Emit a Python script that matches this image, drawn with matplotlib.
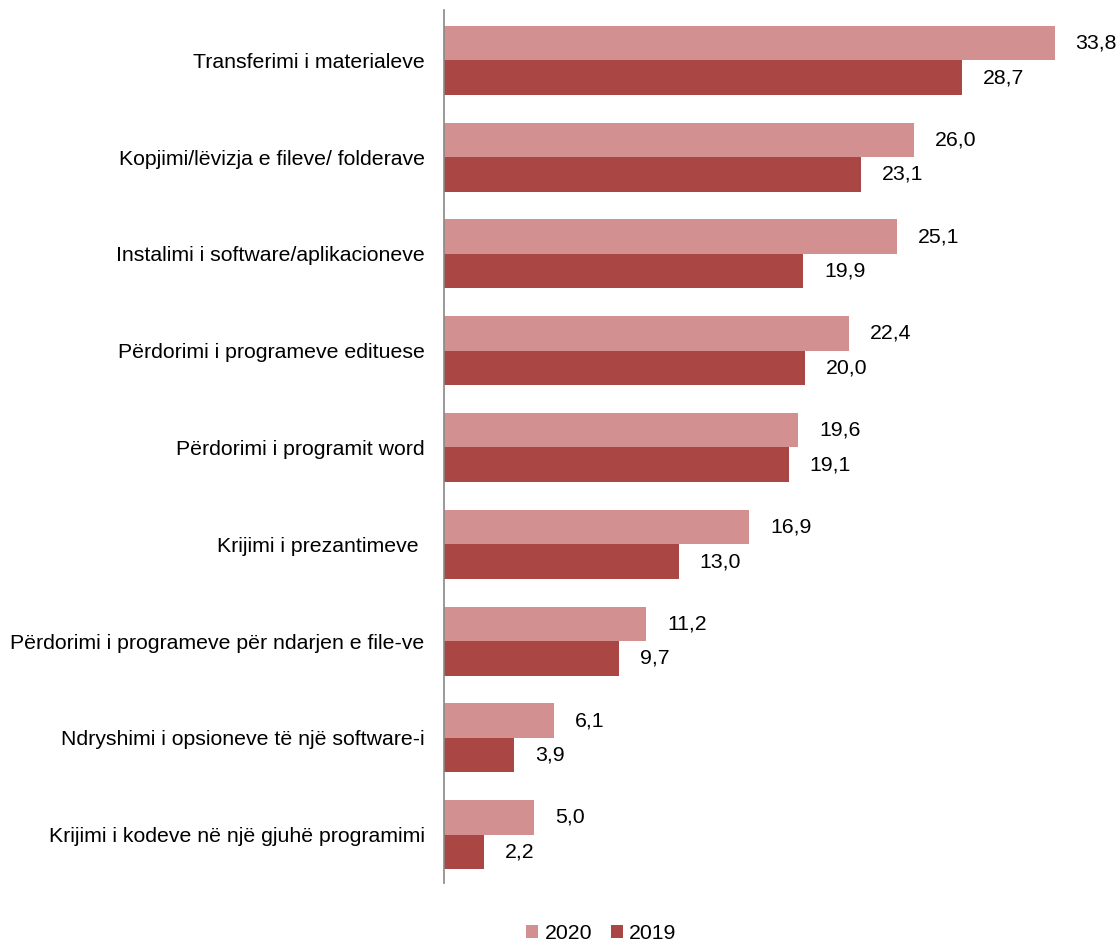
import matplotlib
matplotlib.use("Agg")
import matplotlib.pyplot as plt
import numpy as np

plt.rcParams['font.family'] = ['Liberation Sans', 'DejaVu Sans']

categories = [
    "Transferimi i materialeve",
    "Kopjimi/lëvizja e fileve/ folderave",
    "Instalimi i software/aplikacioneve",
    "Përdorimi i programeve edituese",
    "Përdorimi i programit word",
    "Krijimi i prezantimeve ",
    "Përdorimi i programeve për ndarjen e file-ve",
    "Ndryshimi i opsioneve të një software-i",
    "Krijimi i kodeve në një gjuhë programimi",
]
values_2020 = [33.8, 26.0, 25.1, 22.4, 19.6, 16.9, 11.2, 6.1, 5.0]
values_2019 = [28.7, 23.1, 19.9, 20.0, 19.1, 13.0, 9.7, 3.9, 2.2]
series_names = ["2020", "2019"]

c2020 = "#D39090"
c2019 = "#AA4644"
FS = 15.3

fig = plt.figure(figsize=(11.2, 9.42), dpi=100)
ax = fig.add_axes([0.3964, 0.0626, 0.5936, 0.9268])

y = np.arange(len(categories))
h = 0.357
b1 = ax.barh(y - h / 2, values_2020, height=h, color=c2020, label=series_names[0])
b2 = ax.barh(y + h / 2, values_2019, height=h, color=c2019, label=series_names[1])

def fmt(v):
    return f"{v:.1f}".replace(".", ",")

for bars, vals in ((b1, values_2020), (b2, values_2019)):
    for rect, v in zip(bars, vals):
        ax.annotate(fmt(v), xy=(rect.get_width(), rect.get_y() + rect.get_height() / 2),
                    xytext=(15, 0), textcoords="offset points",
                    ha="left", va="center", fontsize=FS, color="#000000")

ax.set_ylim(len(categories) - 0.5, -0.52)
ax.set_xlim(0, 36.8)
ax.set_yticks(y)
ax.set_yticklabels(categories, fontsize=FS)
ax.tick_params(axis="y", length=0, pad=14)
ax.set_xticks([])
for s in ["top", "right", "bottom"]:
    ax.spines[s].set_visible(False)
ax.spines["left"].set_color("#888888")
ax.spines["left"].set_linewidth(1.2)

fig.legend(handles=[b1, b2], labels=series_names, loc="lower center",
           bbox_to_anchor=(0.537, -0.021), ncol=2, frameon=False, fontsize=FS,
           handlelength=0.55, handleheight=0.55, handletextpad=0.3, columnspacing=0.9)

fig.savefig("out.png", dpi=100)
